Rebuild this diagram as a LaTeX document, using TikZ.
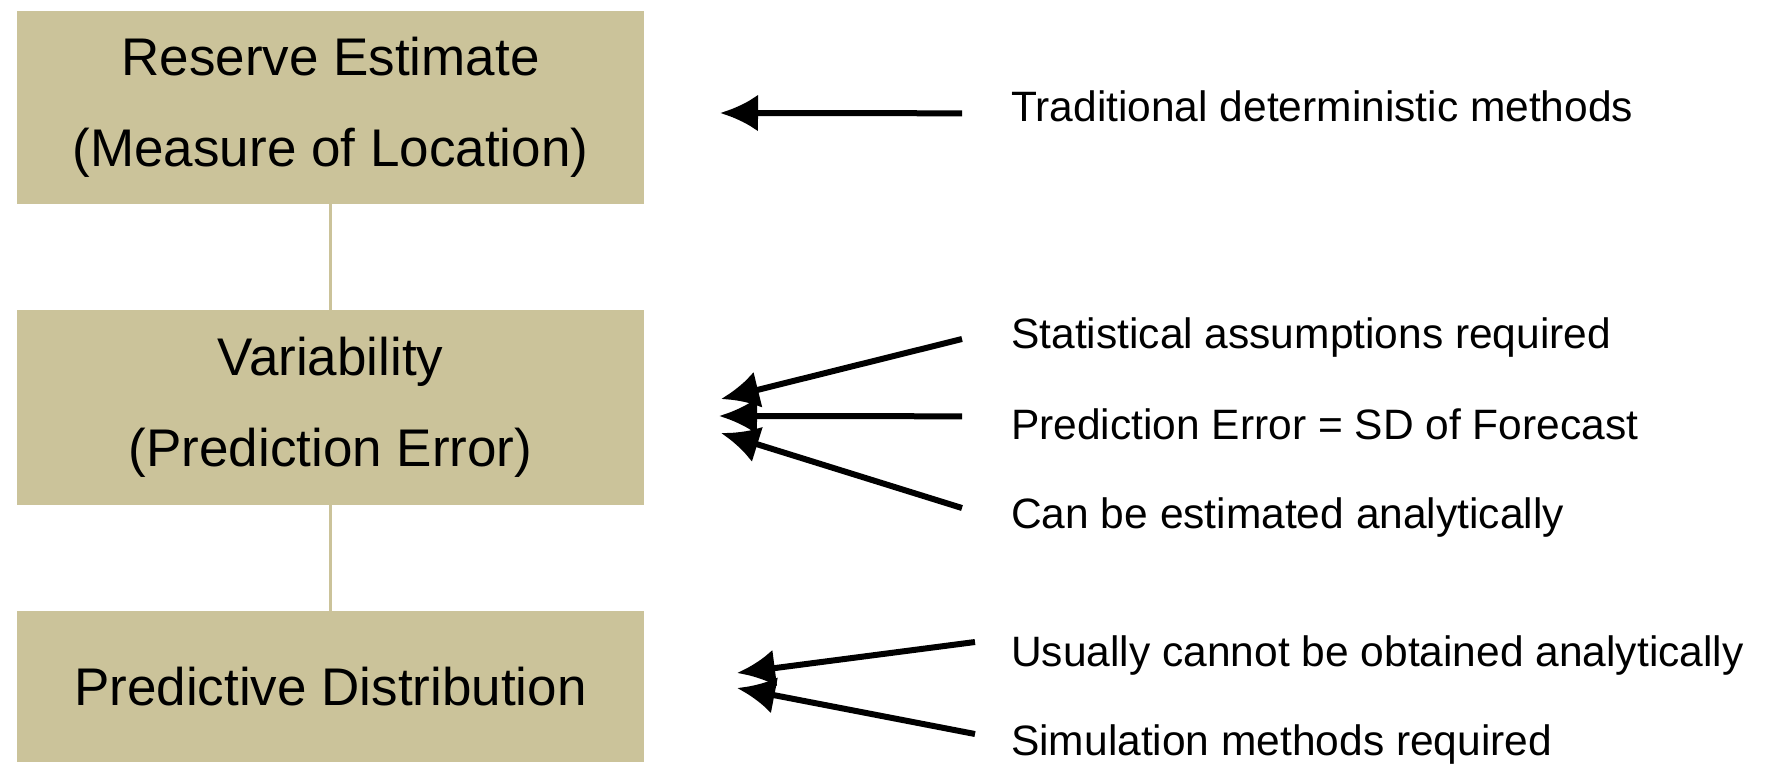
\documentclass[tikz,border=0pt]{standalone}
\usepackage{fontspec}
\setmainfont{Liberation Sans}
\usepackage{xcolor}
\usetikzlibrary{arrows.meta, positioning}
\definecolor{boxc}{RGB}{203,195,154}

\begin{document}
\begin{tikzpicture}[x=1pt, y=-1pt,
    level/.style={fill=boxc, minimum width=627pt, align=center, inner sep=0pt,
      font=\fontsize{53}{91}\selectfont},
    link/.style={boxc, line width=3pt},
    ptr/.style={-{Latex[length=38pt, width=37pt]}, line width=6pt},
    note/.style={anchor=base west, inner sep=0pt,
      font=\fontsize{42.5}{50}\selectfont}]
  \useasboundingbox (0,0) rectangle (1765,770);
  % the three levels
  \node[level, minimum height=193pt] (est) at (330.5,107.5)
    {Reserve Estimate\\(Measure of Location)};
  \node[level, minimum height=195pt] (var) at (330.5,407.5)
    {Variability\\(Prediction Error)};
  \node[level, minimum height=151pt] (dist) at (330.5,686.5)
    {Predictive Distribution};
  \draw[link] (est) -- (var);
  \draw[link] (var) -- (dist);
  % comments on the right
  \node[note] (trad) at (1011,122) {Traditional deterministic methods};
  \node[note] (stat) at (1011,348) {Statistical assumptions required};
  \node[note] (sd)   at (1011,439) {Prediction Error = SD of Forecast};
  \node[note] (anal) at (1011,528) {Can be estimated analytically};
  \node[note] (cann) at (1011,666) {Usually cannot be obtained analytically};
  \node[note] (sim)  at (1011,755) {Simulation methods required};
  \coordinate (tA)  at (720,113);
  \coordinate (tB1) at (721,399);
  \coordinate (tB2) at (719,416);
  \coordinate (tB3) at (721,433);
  \coordinate (tC1) at (737,673);
  \coordinate (tC2) at (737,688);
  \foreach \lab/\dx/\dy/\tip in {trad/-49/-6.5/tA, stat/-49/-2/tB1,
      sd/-49/7.5/tB2, anal/-49/9/tB3, cann/-36/13/tC1, sim/-36/10/tC2}
    \draw[ptr] ([xshift=\dx pt, yshift=\dy pt]\lab.west) -- (\tip);
\end{tikzpicture}
\end{document}
